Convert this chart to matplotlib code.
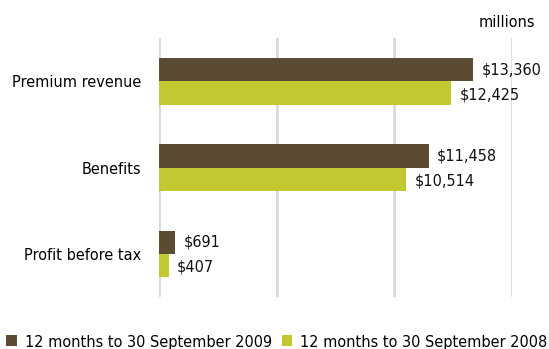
import matplotlib
matplotlib.use("Agg")
import matplotlib.pyplot as plt
from matplotlib import font_manager

categories = ["Premium revenue", "Benefits", "Profit before tax"]
series_names = ["12 months to 30 September 2009", "12 months to 30 September 2008"]
values_2009 = [13360, 11458, 691]
values_2008 = [12425, 10514, 407]
value_labels_2009 = ["$13,360", "$11,458", "$691"]
value_labels_2008 = ["$12,425", "$10,514", "$407"]
x_ticks = [0, 5000, 10000, 15000]

# Prefer a narrow sans face if one is installed
narrow = None
for f in font_manager.fontManager.ttflist:
    key = (f.name + " " + f.fname).lower()
    if ("narrow" in key or "condensed" in key) and "mono" not in key and "serif" not in key.replace("sans", "") \
            and f.style == "normal" and f.weight in (400, "normal", "regular"):
        narrow = f
        break

if narrow is not None:
    fp = font_manager.FontProperties(fname=narrow.fname)
    fs = 11.6
    fam = narrow.name
else:
    fp = font_manager.FontProperties(family="Liberation Sans")
    fs = 10.5
    fam = "Liberation Sans"
plt.rcParams["font.family"] = [fam, "DejaVu Sans"]

dark = "#5B4B32"
green = "#C2C930"
grid_c = "#D9D9D9"

fig = plt.figure(figsize=(5.49, 3.49), dpi=100)
ax = fig.add_axes([0.2896, 0.149, 0.6430, 0.742])

h = 0.27
ys = list(range(len(categories)))
ax.barh([y - h / 2 for y in ys], values_2009, height=h, color=dark, label=series_names[0], zorder=3)
ax.barh([y + h / 2 for y in ys], values_2008, height=h, color=green, label=series_names[1], zorder=3)

for y, v, t in zip(ys, values_2009, value_labels_2009):
    ax.text(v + 350, y - h / 2, t, va="center", ha="left", fontproperties=fp, fontsize=fs, color="#111111")
for y, v, t in zip(ys, values_2008, value_labels_2008):
    ax.text(v + 350, y + h / 2 + 0.02, t, va="center", ha="left", fontproperties=fp, fontsize=fs, color="#111111")

ax.set_xlim(0, 15000)
ax.set_ylim(2.5, -0.5)
ax.set_xticks(x_ticks)
ax.set_xticklabels([])
ax.set_yticks(ys)
ax.set_yticklabels(categories)
for lab in ax.get_yticklabels():
    lab.set_fontproperties(fp)
    lab.set_fontsize(fs)
ax.tick_params(axis="both", length=0, pad=13)
ax.xaxis.grid(True, color=grid_c, linewidth=2, zorder=0)
for s in ax.spines.values():
    s.set_visible(False)

fig.text(0.975, 0.913, "millions", ha="right", va="bottom", fontproperties=fp, fontsize=fs)

lp = fp.copy()
lp.set_size(fs)
fig.legend(loc="lower left", bbox_to_anchor=(0.0, -0.02), ncol=2, frameon=False,
           prop=lp, handlelength=0.65, handleheight=0.65, handletextpad=0.5,
           columnspacing=0.6, borderaxespad=0.0)

fig.savefig("out.png", dpi=100)
